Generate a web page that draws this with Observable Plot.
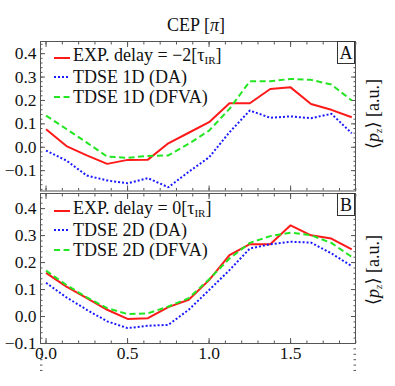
<!DOCTYPE html>
<html><head><meta charset="utf-8">
<script src="https://cdn.jsdelivr.net/npm/d3@7"></script>
<script src="https://cdn.jsdelivr.net/npm/@observablehq/plot@0.6"></script>
<style>
body{margin:0;background:#fff;}
#wrap{position:relative;width:395px;height:386px;font-family:"Liberation Serif","DejaVu Serif",serif;color:#111;overflow:hidden;}
#wrap svg{position:absolute;left:0;}
.abs{position:absolute;white-space:nowrap;}
.leg{position:absolute;left:54px;font-size:18px;line-height:20px;}
.leg div{height:19.5px;display:flex;align-items:center;}
.leg svg{position:static !important;margin-right:3px;}
.box{position:absolute;left:337px;width:16px;height:21px;border:1.5px solid #333;background:#fff;font-size:18px;text-align:center;line-height:22px;}
.ylab{position:absolute;font-size:18px;transform:translate(-50%,-50%) rotate(-90deg);white-space:nowrap;}
sub{font-size:11px;vertical-align:-3px;}
</style></head><body><div id="wrap"></div>
<script>
const cep = [0, 0.125, 0.25, 0.375, 0.5, 0.625, 0.75, 0.875, 1.0, 1.125, 1.25, 1.375, 1.5, 1.625, 1.75, 1.875];
// Panel A
const expA  = [0.077, 0.005, -0.035, -0.071, -0.054, -0.053, 0.017, 0.062, 0.107, 0.188, 0.188, 0.249, 0.256, 0.185, 0.160, 0.128];
const daA   = [-0.014, -0.057, -0.121, -0.142, -0.154, -0.132, -0.171, -0.105, -0.043, 0.064, 0.157, 0.126, 0.132, 0.124, 0.143, 0.060];
const dfvaA = [0.135, 0.078, 0.020, -0.040, -0.045, -0.037, -0.035, 0.015, 0.071, 0.164, 0.282, 0.282, 0.292, 0.288, 0.268, 0.200];
// Panel B
const expB  = [0.162, 0.111, 0.068, 0.025, -0.009, -0.006, 0.035, 0.062, 0.135, 0.228, 0.268, 0.268, 0.338, 0.301, 0.289, 0.249];
const daB   = [0.125, 0.071, 0.025, -0.018, -0.043, -0.034, -0.031, 0.025, 0.098, 0.172, 0.252, 0.268, 0.277, 0.274, 0.234, 0.187];
const dfvaB = [0.170, 0.117, 0.071, 0.031, 0.009, 0.012, 0.037, 0.068, 0.138, 0.215, 0.273, 0.298, 0.311, 0.301, 0.273, 0.221];

const xTicks = [0, 0.5, 1.0, 1.5];
const yTicks = [-0.1, 0, 0.1, 0.2, 0.3, 0.4];
const legendA = ["EXP. delay = \u22122[\u03c4<sub>IR</sub>]", "TDSE 1D (DA)", "TDSE 1D (DFVA)"];
const legendB = ["EXP. delay = 0[\u03c4<sub>IR</sub>]", "TDSE 2D (DA)", "TDSE 2D (DFVA)"];
const seriesStyle = [
  {stroke: "#ff1a1a", dash: null},
  {stroke: "#1a1aff", dash: "2,2"},
  {stroke: "#22e622", dash: "6,3.5"}
];

const xMinor = d3.range(0, 1.95, 0.1).map(v => +v.toFixed(2));
const yMinor = d3.range(-0.2, 0.46, 0.02).map(v => +v.toFixed(2));
const fmt = d3.format(".1f");
const tc = "#555";
const FONT = "'Liberation Serif', 'DejaVu Serif', serif";

function panel({series, ydomain, height, marginTop, marginBottom, showX}) {
  const marks = [
    Plot.axisX({anchor: "top", ticks: xMinor, tickSize: -2.5, fill: "none", label: null, stroke: tc}),
    Plot.axisX({anchor: "top", ticks: xTicks, tickSize: -5, fill: "none", label: null, stroke: tc}),
    Plot.axisX({anchor: "bottom", ticks: xMinor, tickSize: -2.5, fill: "none", label: null, stroke: tc}),
    Plot.axisX({anchor: "bottom", ticks: xTicks, tickSize: -5, fill: "none", label: null, stroke: tc}),
    Plot.axisY({anchor: "left", ticks: yMinor, tickSize: -2.5, fill: "none", label: null, stroke: tc}),
    Plot.axisY({anchor: "left", ticks: yTicks, tickSize: -5, fill: "none", label: null, stroke: tc}),
    Plot.axisY({anchor: "right", ticks: yMinor, tickSize: -2.5, fill: "none", label: null, stroke: tc}),
    Plot.axisY({anchor: "right", ticks: yTicks, tickSize: -5, fill: "none", label: null, stroke: tc}),
    Plot.axisY({anchor: "left", ticks: yTicks, tickSize: 0, tickPadding: 4, tickFormat: fmt, label: null, fill: "#111"}),
    Plot.frame({stroke: tc})
  ];
  if (showX) marks.push(Plot.axisX({anchor: "bottom", ticks: xTicks, tickSize: 0, tickPadding: 3, tickFormat: fmt, label: null, fill: "#111"}));
  series.forEach((arr, i) => {
    const rows = cep.map((x, j) => ({x, v: arr[j]}));
    marks.push(Plot.line(rows, {x: "x", y: "v", stroke: seriesStyle[i].stroke, strokeWidth: 2, strokeDasharray: seriesStyle[i].dash, strokeLinejoin: "miter", strokeLinecap: "butt"}));
  });
  return Plot.plot({
    width: 395, height, marginLeft: 40, marginRight: 40, marginTop, marginBottom,
    x: {domain: [-0.034, 1.898]},
    y: {domain: ydomain},
    style: {fontFamily: FONT, fontSize: "17.5px", color: "#111", background: "transparent"},
    marks
  });
}

const wrap = document.getElementById("wrap");
const a = panel({series: [expA, daA, dfvaA], ydomain: [-0.187, 0.452], height: 192, marginTop: 41, marginBottom: 1.5, showX: false});
a.style.top = "0px";
const b = panel({series: [expB, daB, dfvaB], ydomain: [-0.1, 0.456], height: 194, marginTop: 1, marginBottom: 43, showX: true});
b.style.top = "192px";
wrap.appendChild(a); wrap.appendChild(b);

function addLegend(items, top) {
  const d = document.createElement("div");
  d.className = "leg"; d.style.top = top + "px";
  items.forEach((t, i) => {
    const s = seriesStyle[i];
    const row = document.createElement("div");
    row.innerHTML = `<svg width="16" height="6"><line x1="0" y1="3" x2="16" y2="3" stroke="${s.stroke}" stroke-width="2" ${s.dash ? `stroke-dasharray="${s.dash}"` : ""}/></svg><span>${t}</span>`;
    d.appendChild(row);
  });
  wrap.appendChild(d);
}
addLegend(legendA, 48);
addLegend(legendB, 201);

function addBox(letter, top) {
  const d = document.createElement("div");
  d.className = "box"; d.style.top = top + "px"; d.textContent = letter;
  wrap.appendChild(d);
}
addBox("A", 40.5);
addBox("B", 193);

const title = document.createElement("div");
title.className = "abs"; title.style.cssText = "left:196px;top:15px;transform:translateX(-50%);font-size:18px;";
title.innerHTML = "CEP [<i>\u03c0</i>]";
wrap.appendChild(title);

[114, 270].forEach(cy => {
  const d = document.createElement("div");
  d.className = "ylab"; d.style.left = "373px"; d.style.top = cy + "px";
  d.innerHTML = "\u27e8<i>p<sub style='font-size:11px'>z</sub></i>\u27e9 [a.u.]";
  wrap.appendChild(d);
});
</script></body></html>
